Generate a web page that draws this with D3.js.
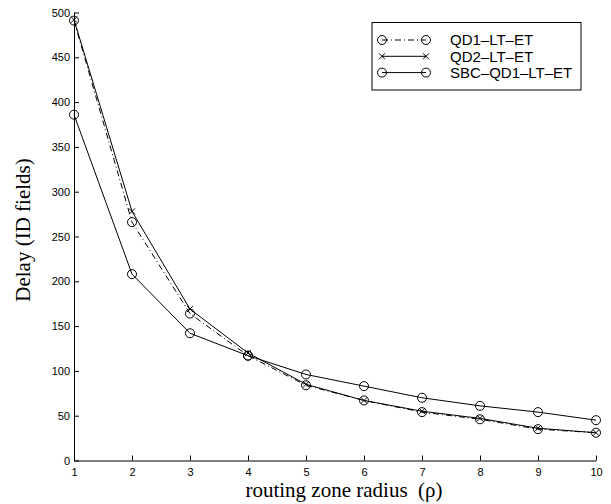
<!DOCTYPE html>
<html>
<head>
<meta charset="utf-8">
<script src="https://cdn.jsdelivr.net/npm/d3@7"></script>
<style>
  body { margin: 0; background: #fff; }
  svg { display: block; }
  .tick text { font-family: "Liberation Sans", Arial, sans-serif; font-size: 11px; fill: #000; }
</style>
</head>
<body>
<div id="chart"></div>
<script>
// routing zone radius
const radius = [1, 2, 3, 4, 5, 6, 7, 8, 9, 10];
const qd1 = [491, 266, 164, 117, 84, 67, 54, 46, 35, 31];
const qd2 = [492, 278, 169, 120, 85, 67, 55, 47, 36, 31];
const sbc = [386, 208, 142, 117, 96, 83, 70, 61, 54, 45];
const yTicks = [0, 50, 100, 150, 200, 250, 300, 350, 400, 450, 500];

const series = [
  { name: 'QD1\u2013LT\u2013ET', values: qd1, dash: '6,3,1,3', marker: 'circle' },
  { name: 'QD2\u2013LT\u2013ET', values: qd2, dash: null, marker: 'x' },
  { name: 'SBC\u2013QD1\u2013LT\u2013ET', values: sbc, dash: null, marker: 'circle' },
];

const W = 611, H = 504;
const m = { left: 74, right: 15, top: 12.5, bottom: 43.5 };

const svg = d3.select('#chart').append('svg')
  .attr('width', W).attr('height', H);

const x = d3.scaleLinear().domain([1, 10]).range([m.left, W - m.right]);
const y = d3.scaleLinear().domain([0, 500]).range([H - m.bottom, m.top]);

// axes, ticks point inward
svg.append('g')
  .attr('transform', `translate(0,${H - m.bottom})`)
  .call(d3.axisBottom(x).tickValues(radius).tickFormat(d3.format('d')).tickSizeInner(-5).tickSizeOuter(0).tickPadding(8))
  .call(g => g.select('.domain').attr('stroke', '#000'));

svg.append('g')
  .attr('transform', `translate(${m.left},0)`)
  .call(d3.axisLeft(y).tickValues(yTicks).tickSizeInner(-5).tickSizeOuter(0).tickPadding(4))
  .call(g => g.select('.domain').attr('stroke', '#000'));

// axis labels
svg.append('text')
  .attr('x', 344).attr('y', 497)
  .attr('text-anchor', 'middle')
  .attr('font-family', '"Liberation Serif", "Times New Roman", serif')
  .attr('font-size', '21px')
  .text('routing zone radius\u00a0\u00a0(\u03c1)');

svg.append('text')
  .attr('transform', 'translate(30,230) rotate(-90)')
  .attr('text-anchor', 'middle')
  .attr('font-family', '"Liberation Serif", "Times New Roman", serif')
  .attr('font-size', '21px')
  .text('Delay (ID fields)');

const line = d3.line()
  .x((d, i) => x(radius[i]))
  .y(d => y(d));

function drawMarker(g, type, cx, cy) {
  if (type === 'circle') {
    g.append('circle').attr('cx', cx).attr('cy', cy).attr('r', 4.5)
      .attr('fill', 'none').attr('stroke', '#000').attr('stroke-width', 1);
  } else {
    const s = 3;
    g.append('path')
      .attr('d', `M${cx - s},${cy - s}L${cx + s},${cy + s}M${cx - s},${cy + s}L${cx + s},${cy - s}`)
      .attr('stroke', '#000').attr('stroke-width', 1);
  }
}

series.forEach(s => {
  const g = svg.append('g');
  g.append('path')
    .datum(s.values)
    .attr('d', line)
    .attr('fill', 'none')
    .attr('stroke', '#000')
    .attr('stroke-width', 1)
    .attr('stroke-dasharray', s.dash);
  s.values.forEach((v, i) => drawMarker(g, s.marker, x(radius[i]), y(v)));
});

// legend
const lg = svg.append('g');
lg.append('rect')
  .attr('x', 372).attr('y', 22.5).attr('width', 209).attr('height', 67.5)
  .attr('fill', '#fff').attr('stroke', '#000').attr('stroke-width', 1);

series.forEach((s, i) => {
  const ly = 40 + i * 16.3;
  lg.append('line')
    .attr('x1', 382).attr('x2', 426).attr('y1', ly).attr('y2', ly)
    .attr('stroke', '#000').attr('stroke-width', 1)
    .attr('stroke-dasharray', s.dash);
  drawMarker(lg, s.marker, 382, ly);
  drawMarker(lg, s.marker, 426, ly);
  lg.append('text')
    .attr('x', 450).attr('y', ly).attr('dy', '0.36em')
    .attr('font-family', '"Liberation Sans", Arial, sans-serif')
    .attr('font-size', '15px')
    .text(s.name);
});
</script>
</body>
</html>
